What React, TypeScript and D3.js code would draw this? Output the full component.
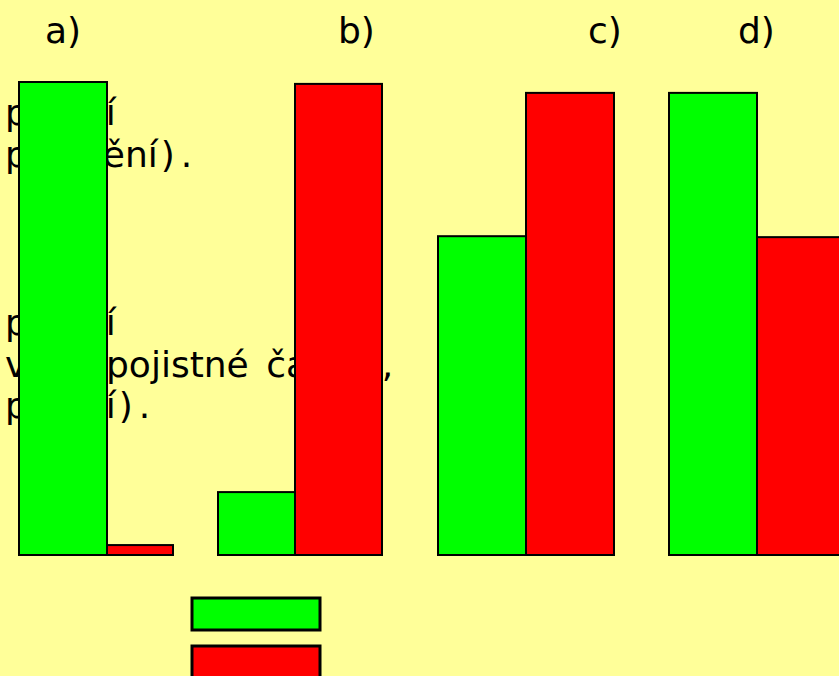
import React from "react";
import { scaleLinear } from "d3";

// Popisky panelů a hodnoty sloupců (max = 100)
const panelLabels = ["a)", "b)", "c)", "d)"];
const greenValues = [100, 13.3, 67.4, 97.7];
const redValues = [2.1, 99.6, 97.7, 67.2];

export default function App() {
  const width = 839;
  const height = 676;
  const baseY = 555;
  const font = "'DejaVu Sans', Verdana, sans-serif";

  // rozložení panelů: začátek zeleného sloupce a šířky sloupců
  const layout = [
    { x: 19, gw: 88, rw: 66, labelX: 45 },
    { x: 218, gw: 77, rw: 87, labelX: 338 },
    { x: 438, gw: 88, rw: 88, labelX: 588 },
    { x: 669, gw: 88, rw: 88, labelX: 738 },
  ];

  const y = scaleLinear().domain([0, 100]).range([baseY, 82]);

  const lineH = 41.5;
  const b1 = 125;
  const b2 = 335;

  return (
    <div style={{ position: "absolute", left: 0, top: 0 }}>
      <svg width={width} height={height} style={{ display: "block" }}>
        <rect x={0} y={0} width={width} height={height} fill="#FFFF99" />

        {/* Text v pozadí (částečně schovaný za sloupci) */}
        <g fontFamily={font} fontSize={36} fill="#000">
          <text x={5} y={b1}>plnění</text>
          <text x={5} y={b1 + lineH}>
            pojištění<tspan dx={3}>)</tspan>
            <tspan dx={6}>.</tspan>
          </text>
          <text x={5} y={b2}>plnění</text>
          <text x={5} y={b2 + lineH}>
            výše
            <tspan x={106} wordSpacing={6}>pojistné částky,</tspan>
          </text>
          <text x={5} y={b2 + 2 * lineH}>
            plnění<tspan dx={3}>)</tspan>
            <tspan dx={6}>.</tspan>
          </text>
        </g>

        {/* Popisky panelů */}
        {panelLabels.map((l, i) => (
          <text
            key={l}
            x={layout[i].labelX}
            y={43}
            fontFamily={font}
            fontSize={36}
            fill="#000"
          >
            {l}
          </text>
        ))}

        {/* Sloupce */}
        {panelLabels.map((l, i) => {
          const p = layout[i];
          return (
            <g key={`bars-${l}`} stroke="#000" strokeWidth={2}>
              <rect
                x={p.x}
                y={y(greenValues[i])}
                width={p.gw}
                height={baseY - y(greenValues[i])}
                fill="#00FF00"
              />
              <rect
                x={p.x + p.gw}
                y={y(redValues[i])}
                width={p.rw}
                height={baseY - y(redValues[i])}
                fill="#FF0000"
              />
            </g>
          );
        })}

        {/* Legenda */}
        <rect x={192} y={598} width={128} height={32} fill="#00FF00" stroke="#000" strokeWidth={3} />
        <rect x={192} y={646} width={128} height={34} fill="#FF0000" stroke="#000" strokeWidth={3} />
      </svg>
    </div>
  );
}
